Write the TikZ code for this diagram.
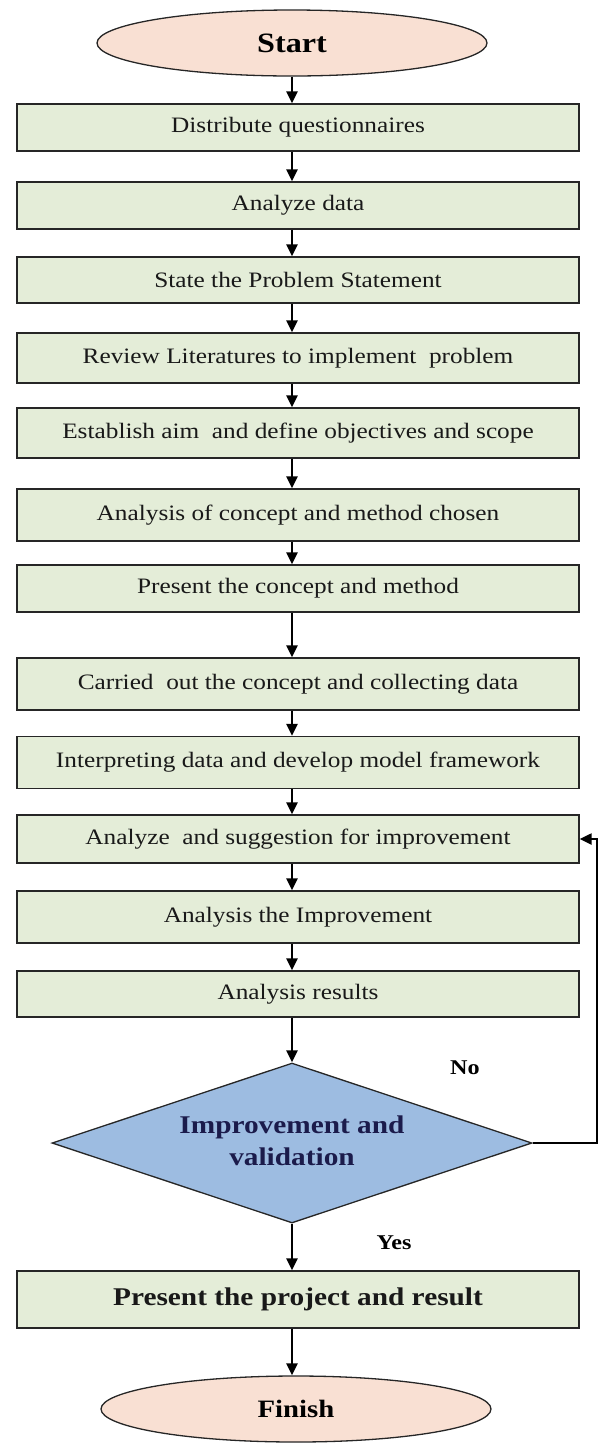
\documentclass[tikz,border=0pt]{standalone}
\usepackage{fontspec}
\setmainfont{Liberation Serif}[FakeStretch=1.15]
\usetikzlibrary{shapes.geometric,arrows.meta}
\definecolor{boxfill}{HTML}{E4EDD8}
\definecolor{ovalfill}{HTML}{F9E0D3}
\definecolor{diafill}{HTML}{9DBCE1}
\definecolor{navy}{HTML}{1B1B4B}
\tikzset{
 stepbox/.style={draw=black!85, line width=1.3pt, fill=boxfill, minimum width=562pt, inner sep=0pt, font=\fontsize{22}{26}\selectfont, text=black!90},
 oval/.style={ellipse, draw=black!85, line width=1.3pt, fill=ovalfill, minimum width=390pt, minimum height=66pt, inner sep=0pt, font=\bfseries\fontsize{26}{30}\selectfont},
 decision/.style={diamond, draw=black!85, line width=1.3pt, fill=diafill, minimum width=480pt, minimum height=160pt, inner sep=0pt},
 diatext/.style={align=center, font=\bfseries\fontsize{25.5}{32}\selectfont, text=navy},
 arr/.style={line width=2.6pt, -{Triangle[width=11pt,length=12pt]}},
 lbl/.style={font=\bfseries\fontsize{21}{24}\selectfont}
}
\begin{document}
\begin{tikzpicture}[x=1pt,y=-1pt]
\useasboundingbox (0,0) rectangle (602,1444);
\coordinate (ax) at (292,0);
\coordinate (fb) at (597,0);
\node[oval, font=\bfseries\fontsize{28}{30}\selectfont] (start) at (292,43) {Start};
\node[stepbox, minimum height=47pt] (b1) at (298,127.5) {Distribute questionnaires};
\node[stepbox, minimum height=47pt] (b2) at (298,205.5) {Analyze data};
\node[stepbox, minimum height=46pt] (b3) at (298,280) {State the Problem Statement};
\node[stepbox, minimum height=50pt] (b4) at (298,358) {Review Literatures to implement\ \ problem};
\node[stepbox, minimum height=50pt] (b5) at (298,433) {Establish aim\ \ and define objectives and scope};
\node[stepbox, minimum height=52pt] (b6) at (298,515) {Analysis of concept and method chosen};
\node[stepbox, minimum height=47pt] (b7) at (298,588.5) {Present the concept and method};
\node[stepbox, minimum height=52pt] (b8) at (298,684) {Carried\ \ out the concept and collecting data};
\node[stepbox, minimum height=52pt] (b9) at (298,762.5) {Interpreting data and develop model framework};
\node[stepbox, minimum height=48pt] (b10) at (298,839) {Analyze\ \ and suggestion for improvement};
\node[stepbox, minimum height=52pt] (b11) at (298,917) {Analysis the Improvement};
\node[stepbox, minimum height=46pt] (b12) at (298,994) {Analysis results};
\node[decision] (dia) at (292,1143) {};
\node[diatext] (diat) at (292,1141) {Improvement and\\validation};
\node[stepbox, minimum height=57pt, font=\bfseries\fontsize{25.5}{30}\selectfont] (b13) at (298,1299.5) {Present the project and result};
\node[oval, font=\bfseries\fontsize{25}{30}\selectfont] (finish) at (296,1409) {Finish};
\node[lbl] (no) at (465,1068) {No};
\node[lbl] (yes) at (394,1243) {Yes};
\draw[arr] (start.south -| ax) -- (b1.north -| ax);
\draw[arr] (b1.south -| ax) -- (b2.north -| ax);
\draw[arr] (b2.south -| ax) -- (b3.north -| ax);
\draw[arr] (b3.south -| ax) -- (b4.north -| ax);
\draw[arr] (b4.south -| ax) -- (b5.north -| ax);
\draw[arr] (b5.south -| ax) -- (b6.north -| ax);
\draw[arr] (b6.south -| ax) -- (b7.north -| ax);
\draw[arr] (b7.south -| ax) -- (b8.north -| ax);
\draw[arr] (b8.south -| ax) -- (b9.north -| ax);
\draw[arr] (b9.south -| ax) -- (b10.north -| ax);
\draw[arr] (b10.south -| ax) -- (b11.north -| ax);
\draw[arr] (b11.south -| ax) -- (b12.north -| ax);
\draw[arr] (b12.south -| ax) -- (dia.north);
\draw[arr] (dia.south) -- (b13.north -| ax);
\draw[arr] (b13.south -| ax) -- (finish.north -| ax);
\draw[arr, line width=2.2pt] (dia.east) -- (dia.east -| fb) -- (fb |- b10.east) -- (b10.east);
\end{tikzpicture}
\end{document}
